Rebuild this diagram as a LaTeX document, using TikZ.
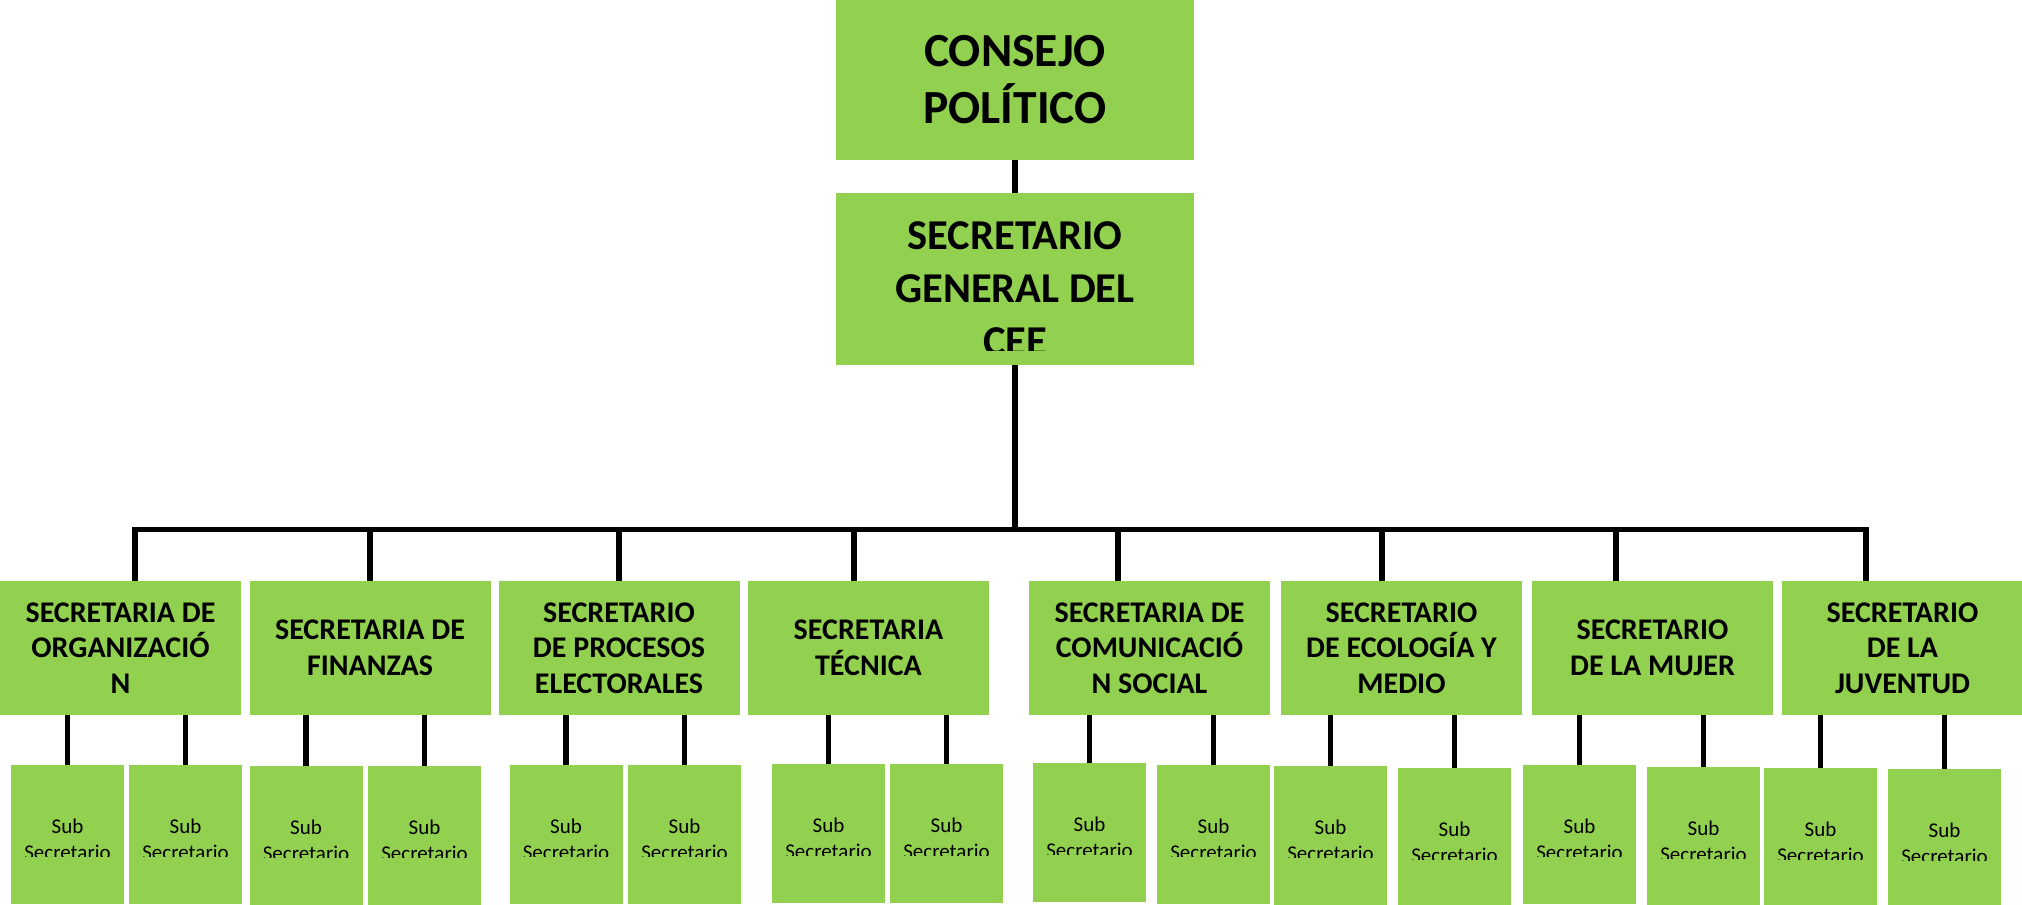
\documentclass[tikz,border=0pt]{standalone}
\usepackage{fontspec}
\setmainfont{Carlito}
\usepackage{tikz}

\definecolor{boxgreen}{HTML}{92D050}
\tikzset{
  box/.style={fill=boxgreen, inner sep=0pt, align=center,
    font=\bfseries\fontsize{30}{35.5}\selectfont},
  boxtext/.style={inner sep=0pt, align=center},
  subbox/.style={fill=boxgreen, inner sep=0pt, minimum width=113pt, minimum height=139pt},
  subtext/.style={inner sep=0pt, align=center, font=\fontsize{21}{26}\selectfont},
  link/.style={line width=5.5pt}
}

\begin{document}
\begin{tikzpicture}[x=1pt,y=-1pt]
  \useasboundingbox (0,0) rectangle (2022,905);

  \node [box, minimum width=358pt, minimum height=160pt,
    font=\bfseries\fontsize{47.5}{57}\selectfont] (1) at (1015,80) {CONSEJO\\POLÍTICO};
  \node [box, minimum width=358pt, minimum height=172pt, below of=1, node distance=199pt] (2) {};
  \begin{scope}
    \clip (2.north west) rectangle ([yshift=15pt]2.south east);
    \node [boxtext, font=\bfseries\fontsize{42.5}{53}\selectfont, yshift=-9.5pt] (2t) at (2) {SECRETARIO\\GENERAL DEL\\CEE};
  \end{scope}

  \node [box, minimum width=241pt, minimum height=134pt] (b1) at (120.5,648) {SECRETARIA DE\\ORGANIZACIÓ\\N};
  \node [box, minimum width=241pt, minimum height=134pt] (b2) at (370,648) {SECRETARIA DE\\FINANZAS};
  \node [box, minimum width=241pt, minimum height=134pt] (b3) at (619,648) {SECRETARIO\\DE PROCESOS\\ELECTORALES};
  \node [box, minimum width=241pt, minimum height=134pt] (b4) at (868.5,648) {SECRETARIA\\TÉCNICA};
  \node [box, minimum width=241pt, minimum height=134pt] (b5) at (1149.5,648) {SECRETARIA DE\\COMUNICACIÓ\\N SOCIAL};
  \node [box, minimum width=241pt, minimum height=134pt] (b6) at (1401.5,648) {SECRETARIO\\DE ECOLOGÍA Y\\MEDIO};
  \node [box, minimum width=241pt, minimum height=134pt] (b7) at (1652.5,648) {SECRETARIO\\DE LA MUJER};
  \node [box, minimum width=241pt, minimum height=134pt] (b8) at (1902.5,648) {SECRETARIO\\DE LA\\JUVENTUD};

  \coordinate (bus) at (1015,529.5);
  \draw[link] (1) -- (2);
  \draw[link] (2) -- (bus);
  \draw[link] ([xshift=14.5pt]b1.north) |- (bus) -| ([xshift=-36.5pt]b8.north);
  \foreach \n/\o in {b2/0,b3/0,b4/-14.5,b5/-31.5,b6/-19.5,b7/-36.5}
    \draw[link] ([xshift=\o pt]\n.north) -- ([xshift=\o pt]\n.north |- bus);

  % sub secretarios
  \foreach \s/\p/\cx/\ty in {s1/b1/67.5/765, s2/b1/185.5/765, s3/b2/306/766, s4/b2/424.5/766,
      s5/b3/566/765, s6/b3/684.5/765, s7/b4/828.5/764, s8/b4/946.5/764,
      s9/b5/1089.5/763, s10/b5/1213.5/765, s11/b6/1330.5/766, s12/b6/1454.5/768,
      s13/b7/1579.5/765, s14/b7/1703.5/767, s15/b8/1820.5/768, s16/b8/1944.5/769}{
    \node [subbox, anchor=north] (\s) at (\cx,\ty) {};
    \draw[link] (\s.north) -- (\s.north |- \p.south);
    \begin{scope}
      \clip (\s.north west) rectangle ([yshift=-91pt]\s.north east);
      \node [subtext] (t\s) at ([yshift=-74pt]\s.north) {Sub\\Secretario};
    \end{scope}
  }
\end{tikzpicture}
\end{document}
